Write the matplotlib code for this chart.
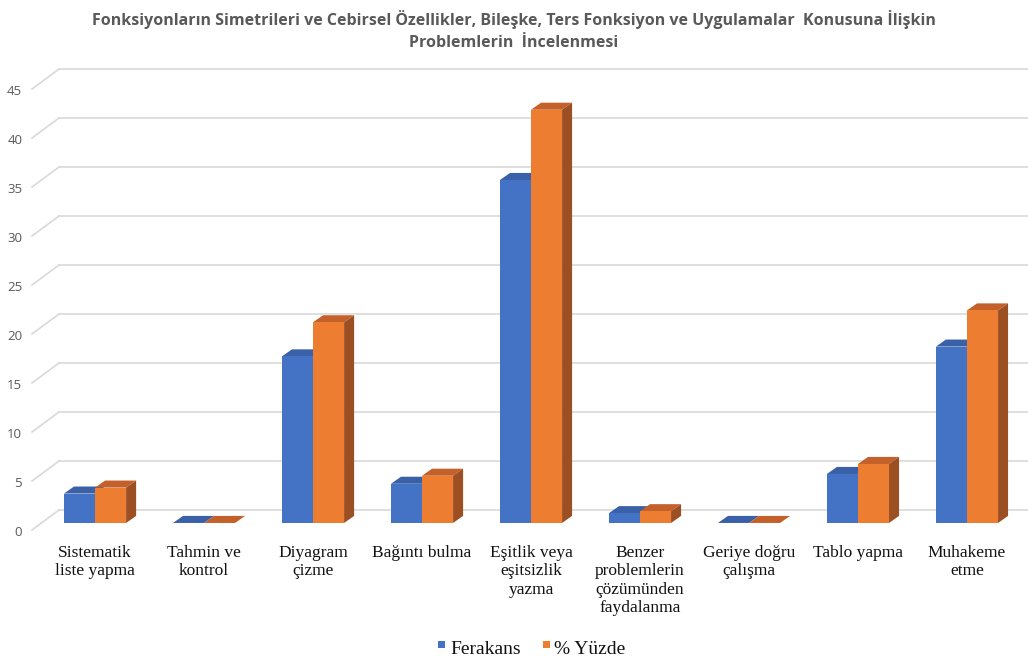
import matplotlib
matplotlib.use("Agg")
import matplotlib.pyplot as plt
from matplotlib.patches import Polygon, Rectangle

# problem solving strategies and their counts / percentages
categories = ["Sistematik\nliste yapma", "Tahmin ve\nkontrol", "Diyagram\nçizme",
              "Bağıntı bulma", "Eşitlik veya\neşitsizlik\nyazma",
              "Benzer\nproblemlerin\nçözümünden\nfaydalanma", "Geriye doğru\nçalışma",
              "Tablo yapma", "Muhakeme\netme"]
ferakans = [3, 0, 17, 4, 35, 1, 0, 5, 18]
yuzde = [3.61, 0, 20.48, 4.82, 42.17, 1.20, 0, 6.02, 21.69]
yticks = [0, 5, 10, 15, 20, 25, 30, 35, 40, 45]

title = ("Fonksiyonların Simetrileri ve Cebirsel Özellikler, Bileşke, Ters Fonksiyon ve Uygulamalar  Konusuna İlişkin\n"
         "Problemlerin  İncelenmesi")

blue = "#4472C4"
orange = "#ED7D31"
blue_top = "#3A61A8"
orange_top = "#C4602A"
orange_side = "#9C4F22"
grid_col = "#D9D9D9"

# fake 3d: depth of each bar and offsets of the back wall / front edge
bw = 0.285          # bar width (category units)
ddx, ddy = 0.092, 0.72   # bar depth
back = 1.33         # back wall above bar plane
front = -0.71       # front floor edge below bar plane
x_front, x_back = -0.578, -0.330

fig = plt.figure(figsize=(10.28, 6.63), dpi=100)
ax = fig.add_axes([0, 0, 1, 1])
ax.set_xlim(-0.872, 8.560)
ax.set_ylim(-14.29, 53.37)
ax.axis("off")

# walls grid
for t in yticks:
    ax.plot([x_back, 9.0], [t + back, t + back], color=grid_col, lw=1.2, zorder=1)
    ax.plot([x_front, x_back], [t + front, t + back], color=grid_col, lw=1.2, zorder=1)
    ax.text(x_front - 0.09, t + front - 0.25, str(t), ha="right", va="center",
            fontsize=9.5, color="#595959", family="Open Sans")


def bar3d(x0, h, face, top, side, z):
    ax.add_patch(Polygon([(x0, h), (x0 + ddx, h + ddy), (x0 + bw + ddx, h + ddy), (x0 + bw, h)],
                         closed=True, facecolor=top, edgecolor="none", zorder=z))
    if side is not None:
        ax.add_patch(Polygon([(x0 + bw, 0), (x0 + bw + ddx, ddy), (x0 + bw + ddx, h + ddy), (x0 + bw, h)],
                             closed=True, facecolor=side, edgecolor="none", zorder=z))
    if h > 0:
        ax.add_patch(Rectangle((x0, 0), bw, h, facecolor=face, edgecolor="none", zorder=z + 0.5))


for i in range(len(categories)):
    bar3d(i - bw, ferakans[i], blue, blue_top, None, 3)
    bar3d(i, yuzde[i], orange, orange_top, orange_side, 4)
    ax.text(i, -2.25, categories[i], ha="center", va="top", fontsize=12.5,
            family="Liberation Serif", color="#111111", linespacing=1.2)

fig.text(0.5, 0.985, title, ha="center", va="top", fontsize=11.5, fontweight="bold",
         color="#595959", family="Open Sans", linespacing=1.55)

# legend
fig.patches.append(Rectangle((438 / 1028, 1 - 648 / 663), 7 / 1028, 7 / 663,
                             transform=fig.transFigure, facecolor=blue, edgecolor="none"))
fig.text(450 / 1028, 1 - 649 / 663, "Ferakans", ha="left", va="center", fontsize=14,
         family="Liberation Serif", color="#111111")
fig.patches.append(Rectangle((543 / 1028, 1 - 648 / 663), 7 / 1028, 7 / 663,
                             transform=fig.transFigure, facecolor=orange, edgecolor="none"))
fig.text(554 / 1028, 1 - 649 / 663, "% Yüzde", ha="left", va="center", fontsize=14,
         family="Liberation Serif", color="#111111")

fig.savefig("out.png", dpi=100)
